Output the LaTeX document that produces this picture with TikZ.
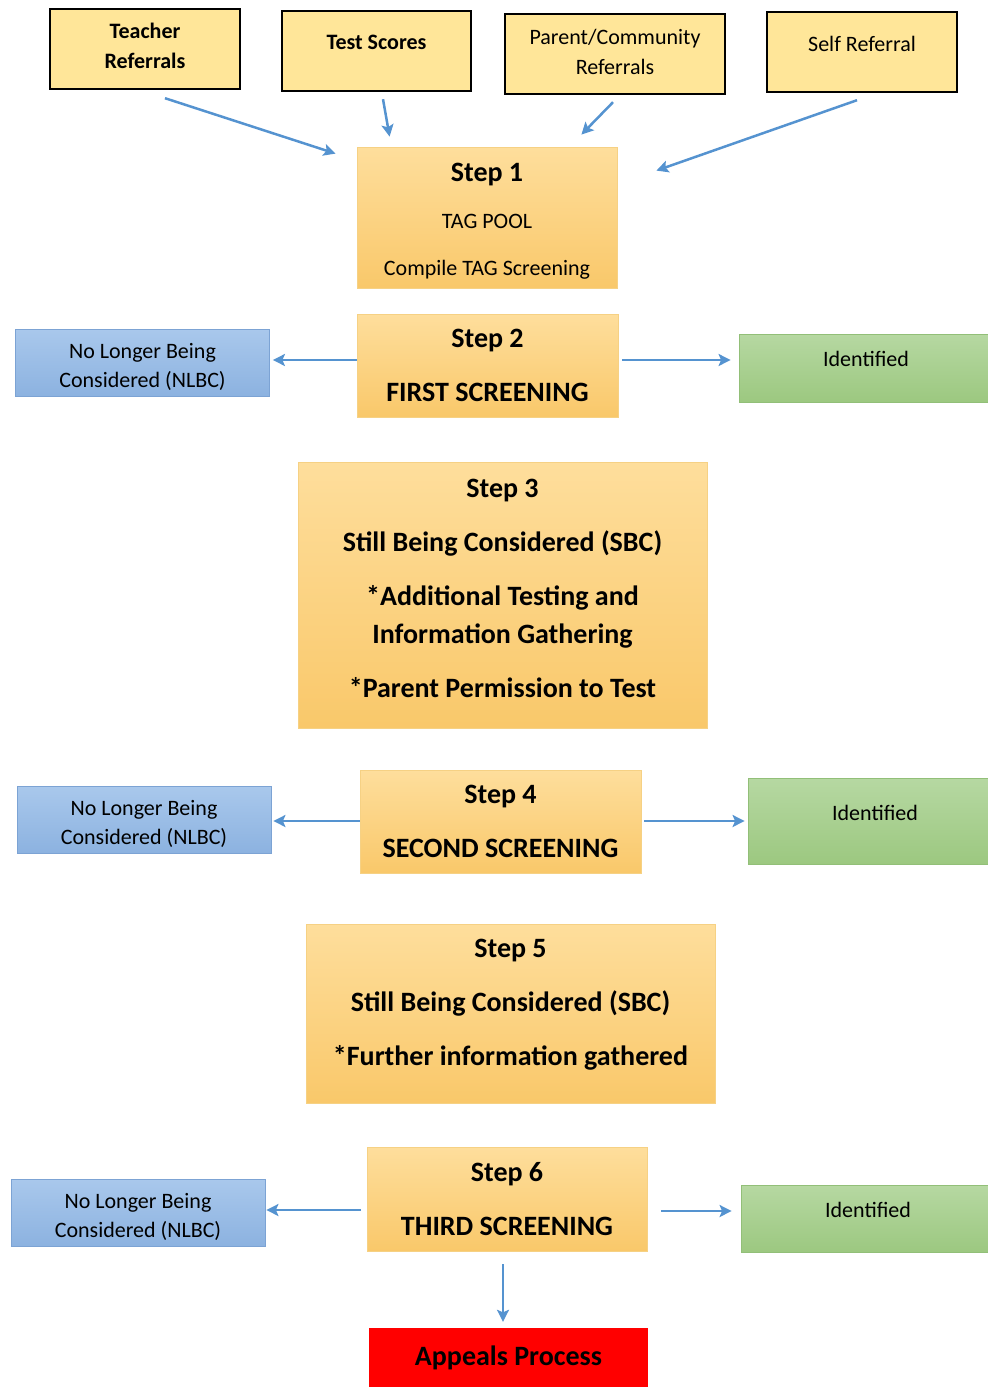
\documentclass[tikz,border=0pt]{standalone}
\usepackage{fontspec}
\setmainfont{Carlito}
\usetikzlibrary{arrows.meta}
\definecolor{arrowblue}{HTML}{5593D0}
\definecolor{srcfill}{HTML}{FFE699}
\definecolor{steptop}{HTML}{FEDE9C}
\definecolor{stepbot}{HTML}{F9C86A}
\definecolor{stepborder}{HTML}{F6D184}
\definecolor{bluetop}{HTML}{A9C8EC}
\definecolor{bluebot}{HTML}{8CB2E0}
\definecolor{blueborder}{HTML}{7CA3D4}
\definecolor{greentop}{HTML}{B6D8A2}
\definecolor{greenbot}{HTML}{9CC880}
\definecolor{greenborder}{HTML}{92BF78}
\definecolor{appealred}{HTML}{FF0000}
\begin{document}
\begin{tikzpicture}[x=1pt,y=-1pt,
  srcbox/.style={draw=black, line width=2.4pt, fill=srcfill, align=center, inner sep=0pt,
    font=\fontsize{22}{30}\selectfont},
  stepbox/.style={draw=stepborder, line width=0.8pt, top color=steptop, bottom color=stepbot,
    align=center, inner sep=0pt, font=\fontsize{28}{54}\selectfont\bfseries},
  nobox/.style={draw=blueborder, line width=0.8pt, top color=bluetop, bottom color=bluebot,
    align=center, inner sep=0pt, minimum width=254pt, minimum height=67pt,
    font=\fontsize{22}{29}\selectfont},
  idbox/.style={draw=greenborder, line width=0.8pt, top color=greentop, bottom color=greenbot,
    align=center, inner sep=0pt, minimum width=254pt, font=\fontsize{22}{26}\selectfont},
  appbox/.style={fill=appealred, align=center, inner sep=0pt,
    font=\fontsize{28}{30}\selectfont\bfseries},
  arr/.style={draw=arrowblue, line width=2.5pt, -{Stealth[length=12pt,width=12pt,inset=2.5pt]}}
]
\useasboundingbox (0,0) rectangle (988,1387);
\clip (0,0) rectangle (988,1387);

% sources
\node[srcbox, minimum width=190pt, minimum height=80pt, font=\fontsize{22}{30}\selectfont\bfseries] (tr) at (145,49)
  {Teacher\\Referrals\rule[-6pt]{0pt}{0pt}};
\node[srcbox, minimum width=189pt, minimum height=80pt, font=\fontsize{22}{30}\selectfont\bfseries] (ts) at (376.5,51)
  {Test Scores\rule[-18pt]{0pt}{0pt}};
\node[srcbox, minimum width=220pt, minimum height=80pt] (pc) at (615,54)
  {Parent/Community\\Referrals\rule[-5pt]{0pt}{0pt}};
\node[srcbox, minimum width=190pt, minimum height=80pt] (sr) at (862,52)
  {Self Referral\rule[-16pt]{0pt}{0pt}};

% step 1
\node[stepbox, minimum width=260pt, minimum height=141pt, font=\fontsize{22}{47}\selectfont] (s1) at (487,217.5)
  {\rule{0pt}{26pt}{\fontsize{28}{47}\selectfont\bfseries Step 1}\\TAG POOL\\Compile TAG Screening};

% step 2 row
\node[stepbox, minimum width=261pt, minimum height=103pt] (s2) at (487.5,365.5)
  {Step 2\\FIRST SCREENING};
\node[nobox] (n1) at (142.5,362.5) {\rule{0pt}{25pt}No Longer Being\\Considered (NLBC)};
\node[idbox, minimum height=68pt] (i1) at (866,368) {Identified\rule[-18pt]{0pt}{0pt}};

% step 3
\node[stepbox, minimum width=409pt, minimum height=266pt] (s3) at (502.5,595)
  {Step 3\\Still Being Considered (SBC)\\*Additional Testing and\\[-16pt]Information Gathering\\*Parent Permission to Test\rule[-14pt]{0pt}{0pt}};

% step 4 row
\node[stepbox, minimum width=281pt, minimum height=103pt] (s4) at (500.5,821.5)
  {Step 4\\SECOND SCREENING};
\node[nobox] (n2) at (144,819.5) {\rule{0pt}{25pt}No Longer Being\\Considered (NLBC)};
\node[idbox, minimum height=86pt] (i2) at (875,821) {Identified\rule[-16pt]{0pt}{0pt}};

% step 5
\node[stepbox, minimum width=409pt, minimum height=179pt] (s5) at (510.5,1013.5)
  {Step 5\\Still Being Considered (SBC)\\*Further information gathered\rule[-23pt]{0pt}{0pt}};

% step 6 row
\node[stepbox, minimum width=280pt, minimum height=104pt] (s6) at (507,1199)
  {Step 6\\THIRD SCREENING};
\node[nobox] (n3) at (138,1212.5) {\rule{0pt}{25pt}No Longer Being\\Considered (NLBC)};
\node[idbox, minimum height=67pt] (i3) at (868,1218.5) {Identified\rule[-17pt]{0pt}{0pt}};

% appeals
\node[appbox, minimum width=279pt, minimum height=59pt] (ap) at (508.5,1357.5) {Appeals Process};

% arrows from sources
\draw[arr] ([xshift=20pt,yshift=-8pt]tr.south) -- ([xshift=-21pt,yshift=-7pt]s1.north west);
\draw[arr] ([xshift=6.5pt,yshift=-7pt]ts.south) -- ([xshift=33pt,yshift=10pt]s1.north west);
\draw[arr] ([xshift=-2pt,yshift=-7pt]pc.south) -- ([xshift=-36pt,yshift=12pt]s1.north east);
\draw[arr] ([xshift=-5pt,yshift=-7pt]sr.south) -- ([xshift=39pt,yshift=-24pt]s1.north east);

% side arrows
\draw[arr, shorten >=3pt] (s2.west |- 0,360) -- (n1.east |- 0,360);
\draw[arr, shorten <=4pt, shorten >=8pt] (s2.east |- 0,360) -- (i1.west |- 0,360);
\draw[arr, shorten >=2pt] (s4.west |- 0,821) -- (n2.east |- 0,821);
\draw[arr, shorten <=3pt, shorten >=3pt] (s4.east |- 0,821) -- (i2.west |- 0,821);
\draw[arr, shorten <=6pt, shorten >=1pt] (s6.west |- 0,1210) -- (n3.east |- 0,1210);
\draw[arr, shorten <=14pt, shorten >=9pt] (s6.east |- 0,1211) -- (i3.west |- 0,1211);
\draw[arr, shorten <=13pt, shorten >=6pt] (s6.south -| 503,0) -- (ap.north -| 503,0);
\end{tikzpicture}
\end{document}
